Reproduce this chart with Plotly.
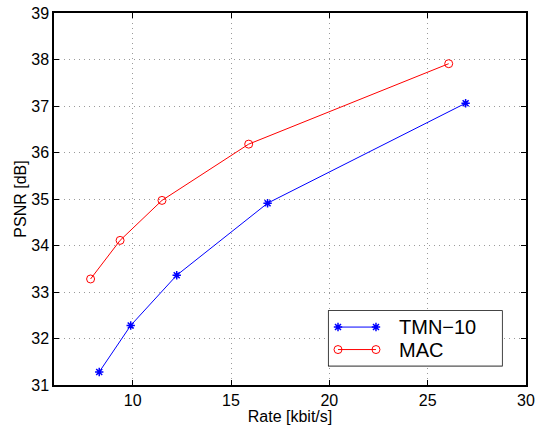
import plotly.graph_objects as go

# Data
tmn_rate = [8.30, 9.90, 12.24, 16.86, 26.93]
tmn_psnr = [31.28, 32.28, 33.36, 34.91, 37.06]
mac_rate = [7.86, 9.36, 11.49, 15.90, 26.07]
mac_psnr = [33.28, 34.11, 34.97, 36.18, 37.91]

series_names = ["TMN\u221210", "MAC"]

x_ticks = [10, 15, 20, 25, 30]
y_ticks = [31, 32, 33, 34, 35, 36, 37, 38, 39]

FONT = "Liberation Sans, Arial, Helvetica, sans-serif"

BLUE = "#0000ff"
RED = "#ff0000"
tmn_marker = dict(symbol="asterisk-open", size=7, color=BLUE, line=dict(color=BLUE, width=1.5))
mac_marker = dict(symbol="circle-open", size=8, color=RED, line=dict(color=RED, width=1))

fig = go.Figure()
fig.add_trace(go.Scatter(
    x=tmn_rate, y=tmn_psnr, mode="lines+markers", name=series_names[0],
    line=dict(color=BLUE, width=1), marker=tmn_marker, showlegend=False,
))
fig.add_trace(go.Scatter(
    x=mac_rate, y=mac_psnr, mode="lines+markers", name=series_names[1],
    line=dict(color=RED, width=1), marker=mac_marker, showlegend=False,
))

# ---- MATLAB-style legend (box in paper coords, samples on an overlay axis) ----
LEG_X0, LEG_X1 = 0.582, 0.949
LEG_Y0, LEG_Y1 = 0.052, 0.199
# overlay axis spans the legend box, units = pixels inside the box
LEG_W, LEG_H = 173.3, 54.7
sample_x = [9.3, 47.3]
row_y = [38.6, 16.1]
text_x = 68.5

fig.add_shape(type="rect", xref="paper", yref="paper",
              x0=LEG_X0, x1=LEG_X1, y0=LEG_Y0, y1=LEG_Y1,
              line=dict(color="black", width=1.5), fillcolor="white", layer="between")
for name, yy, col, mk in [(series_names[0], row_y[0], BLUE, tmn_marker),
                          (series_names[1], row_y[1], RED, mac_marker)]:
    fig.add_trace(go.Scatter(
        x=sample_x, y=[yy, yy], mode="lines+markers", xaxis="x2", yaxis="y2",
        line=dict(color=col, width=1), marker=mk, showlegend=False, hoverinfo="skip",
    ))
    fig.add_annotation(x=text_x, y=yy, xref="x2", yref="y2", text=name,
                       showarrow=False, xanchor="left", yanchor="middle",
                       font=dict(family=FONT, size=20, color="black"))

axis_common = dict(
    showline=True, linecolor="black", linewidth=1.5, mirror="ticks",
    ticks="inside", ticklen=5, tickcolor="black", tickwidth=1,
    showgrid=True, gridcolor="#9a9a9a", griddash="1px,4px", gridwidth=1,
    zeroline=False, automargin=False,
    tickfont=dict(family=FONT, size=16, color="black"),
)

fig.update_layout(
    xaxis=dict(
        range=[6, 30], tickvals=x_ticks, ticktext=[str(v) for v in x_ticks],
        title=dict(text="Rate [kbit/s]", font=dict(family=FONT, size=16, color="black"), standoff=4),
        **axis_common,
    ),
    yaxis=dict(
        range=[31, 39], tickvals=y_ticks, ticktext=[str(v) for v in y_ticks],
        title=dict(text="PSNR [dB]", font=dict(family=FONT, size=16, color="black"), standoff=1),
        **axis_common,
    ),
    xaxis2=dict(domain=[LEG_X0, LEG_X1], range=[0, LEG_W], anchor="y2",
                visible=False, fixedrange=True),
    yaxis2=dict(domain=[LEG_Y0, LEG_Y1], range=[0, LEG_H], anchor="x2",
                visible=False, fixedrange=True),
    width=549, height=425,
    margin=dict(l=54, r=23, t=13, b=40),
    paper_bgcolor="white", plot_bgcolor="white",
    showlegend=False,
)

fig.write_html("out.html", config={"displayModeBar": False},
               post_script="document.body.style.margin='0';")
